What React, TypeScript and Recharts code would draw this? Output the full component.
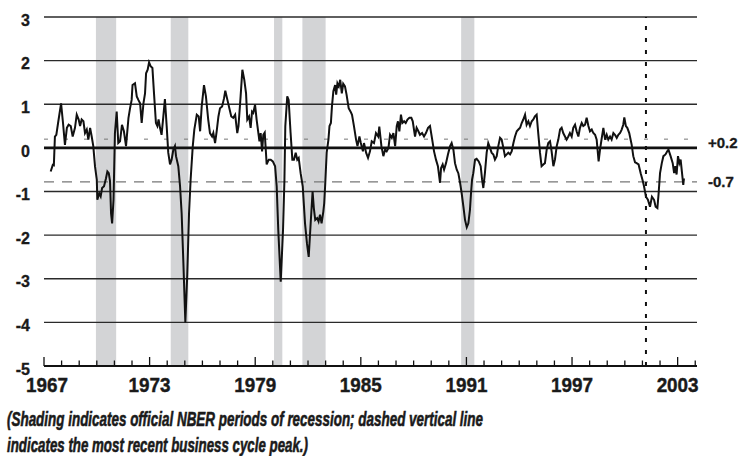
import React from "react";
import {
  LineChart,
  Line,
  XAxis,
  YAxis,
  ReferenceLine,
  ReferenceArea,
} from "recharts";

// monthly-ish readings of the index (year as decimal)
const years = [
  1967.38, 1967.5, 1967.56, 1967.62, 1967.7, 1967.8, 1967.97, 1968.08, 1968.19, 1968.3,
  1968.4, 1968.52, 1968.63, 1968.76, 1968.86, 1968.97, 1969.05, 1969.14, 1969.24, 1969.33,
  1969.43, 1969.52, 1969.62, 1969.71, 1969.8, 1969.9, 1970.0, 1970.03, 1970.14, 1970.22,
  1970.3, 1970.41, 1970.52, 1970.6, 1970.68, 1970.75, 1970.81, 1970.87, 1970.95, 1971.03,
  1971.13, 1971.22, 1971.32, 1971.43, 1971.54, 1971.66, 1971.8, 1971.89, 1971.98, 1972.03,
  1972.17, 1972.27, 1972.36, 1972.46, 1972.55, 1972.65, 1972.74, 1972.8, 1972.89, 1972.97,
  1973.06, 1973.16, 1973.25, 1973.36, 1973.44, 1973.51, 1973.59, 1973.68, 1973.78, 1973.87,
  1973.97, 1974.06, 1974.16, 1974.25, 1974.35, 1974.44, 1974.5, 1974.63, 1974.73, 1974.82,
  1974.92, 1975.03, 1975.14, 1975.24, 1975.33, 1975.45, 1975.54, 1975.68, 1975.79, 1975.87,
  1975.96, 1976.09, 1976.2, 1976.33, 1976.43, 1976.55, 1976.62, 1976.72, 1976.81, 1976.91,
  1977.0, 1977.12, 1977.23, 1977.3, 1977.42, 1977.53, 1977.64, 1977.75, 1977.86, 1977.98,
  1978.05, 1978.17, 1978.27, 1978.38, 1978.48, 1978.55, 1978.65, 1978.74, 1978.82, 1978.89,
  1978.99, 1979.08, 1979.18, 1979.24, 1979.31, 1979.39, 1979.46, 1979.54, 1979.6, 1979.65,
  1979.77, 1979.88, 1980.0, 1980.13, 1980.22, 1980.31, 1980.45, 1980.58, 1980.66, 1980.71,
  1980.82, 1980.9, 1981.01, 1981.11, 1981.2, 1981.3, 1981.39, 1981.47, 1981.58, 1981.7,
  1981.83, 1981.94, 1982.04, 1982.15, 1982.26, 1982.33, 1982.41, 1982.52, 1982.6, 1982.68,
  1982.77, 1982.87, 1982.92, 1982.98, 1983.06, 1983.16, 1983.22, 1983.3, 1983.36, 1983.44,
  1983.54, 1983.6, 1983.67, 1983.75, 1983.83, 1983.92, 1984.0, 1984.1, 1984.19, 1984.31,
  1984.42, 1984.5, 1984.61, 1984.73, 1984.81, 1984.92, 1985.0, 1985.12, 1985.18, 1985.3,
  1985.41, 1985.52, 1985.62, 1985.75, 1985.86, 1985.99, 1986.05, 1986.17, 1986.28, 1986.38,
  1986.47, 1986.57, 1986.66, 1986.76, 1986.85, 1986.95, 1987.04, 1987.11, 1987.19, 1987.28,
  1987.36, 1987.46, 1987.55, 1987.65, 1987.76, 1987.87, 1987.95, 1988.08, 1988.17, 1988.27,
  1988.36, 1988.48, 1988.59, 1988.7, 1988.82, 1988.93, 1989.04, 1989.16, 1989.27, 1989.38,
  1989.5, 1989.56, 1989.65, 1989.73, 1989.84, 1989.95, 1990.07, 1990.16, 1990.26, 1990.35,
  1990.45, 1990.54, 1990.64, 1990.73, 1990.83, 1990.92, 1991.02, 1991.11, 1991.2, 1991.26,
  1991.32, 1991.39, 1991.49, 1991.58, 1991.7, 1991.81, 1991.89, 1991.96, 1992.05, 1992.15,
  1992.24, 1992.34, 1992.43, 1992.53, 1992.62, 1992.72, 1992.81, 1992.91, 1993.0, 1993.1,
  1993.19, 1993.29, 1993.38, 1993.48, 1993.57, 1993.67, 1993.76, 1993.86, 1993.95, 1994.05,
  1994.14, 1994.23, 1994.33, 1994.42, 1994.52, 1994.61, 1994.71, 1994.8, 1994.89, 1994.99,
  1995.08, 1995.18, 1995.27, 1995.37, 1995.46, 1995.56, 1995.65, 1995.75, 1995.84, 1995.94,
  1996.03, 1996.13, 1996.22, 1996.32, 1996.41, 1996.5, 1996.6, 1996.69, 1996.79, 1996.88,
  1996.98, 1997.07, 1997.17, 1997.26, 1997.36, 1997.45, 1997.55, 1997.64, 1997.74, 1997.83,
  1997.93, 1998.02, 1998.12, 1998.21, 1998.31, 1998.4, 1998.51, 1998.59, 1998.69, 1998.78,
  1998.88, 1998.97, 1999.06, 1999.16, 1999.25, 1999.35, 1999.44, 1999.54, 1999.63, 1999.73,
  1999.82, 1999.91, 1999.97, 2000.06, 2000.14, 2000.25, 2000.39, 2000.48, 2000.58, 2000.67,
  2000.78, 2000.9, 2001.02, 2001.09, 2001.2, 2001.31, 2001.43, 2001.54, 2001.66, 2001.75,
  2001.85, 2001.92, 2002.0, 2002.1, 2002.19, 2002.31, 2002.41, 2002.48, 2002.6, 2002.72,
  2002.8, 2002.87, 2002.94, 2003.02, 2003.1, 2003.17, 2003.25, 2003.32, 2003.36,
];

const values = [
  -0.54, -0.39, -0.4, 0.26, 0.3, 0.57, 1.02, 0.57, 0.07, 0.46,
  0.53, 0.5, 0.26, 0.46, 0.76, 0.65, 0.5, 0.65, 0.61, 0.34,
  0.42, 0.19, 0.46, 0.26, 0.04, -0.43, -0.73, -1.19, -1.04, -1.11,
  -0.92, -0.88, -0.7, -0.54, -0.58, -0.76, -1.5, -1.73, -1.19, 0.34,
  0.83, 0.11, 0.15, 0.53, 0.38, 0.04, 0.69, 0.91, 1.1, 1.44,
  1.48, 1.18, 1.1, 1.02, 0.57, 1.02, 1.25, 1.71, 1.79, 1.96,
  1.87, 1.83, 1.25, 0.57, 0.5, 0.65, 0.46, 0.3, 0.72, 1.12,
  0.5, -0.11, -0.38, -0.27, -0.04, 0.04, -0.19, -0.42, -0.88, -1.5,
  -2.65, -4.0, -2.9, -1.5, -0.73, 0.03, 0.42, 0.76, 0.72, 0.38,
  0.95, 1.44, 1.18, 0.65, 0.34, 0.26, 0.34, 0.11, 0.38, 0.72,
  0.91, 0.95, 1.14, 1.31, 1.1, 0.91, 0.72, 0.69, 0.76, 0.34,
  0.5, 1.18, 1.79, 1.56, 1.25, 0.65, 0.72, 0.46, 0.83, 0.8,
  0.99, 0.65, 0.34, 0.15, 0.34, -0.08, 0.3, 0.35, -0.04, -0.38,
  -0.27, -0.27, -0.31, -0.42, -0.88, -1.88, -3.07, -1.88, -0.73, 0.5,
  1.18, 1.1, 0.34, -0.27, -0.27, -0.11, -0.27, -0.23, -0.58, -0.88,
  -1.73, -2.19, -2.5, -1.73, -1.0, -1.38, -1.65, -1.61, -1.69, -1.53,
  -1.73, -1.46, -1.27, -0.81, -0.11, 0.19, 0.5, 0.57, 0.95, 1.3,
  1.44, 1.22, 1.48, 1.41, 1.56, 1.25, 1.47, 1.41, 1.22, 0.91,
  0.83, 0.76, 0.5, 0.19, 0.04, 0.26, 0.11, -0.08, 0.11, -0.11,
  -0.23, -0.08, 0.15, 0.11, 0.34, 0.26, 0.49, 0.04, -0.19, -0.04,
  -0.08, 0.0, 0.3, 0.23, 0.34, 0.04, 0.5, 0.61, 0.38, 0.76,
  0.57, 0.61, 0.57, 0.65, 0.69, 0.69, 0.61, 0.26, 0.46, 0.38,
  0.3, 0.34, 0.26, 0.34, 0.46, 0.5, 0.23, -0.08, -0.27, -0.42,
  -0.8, -0.46, -0.38, -0.5, -0.35, -0.15, 0.04, 0.11, -0.04, -0.35,
  -0.5, -0.58, -0.8, -1.04, -1.35, -1.65, -1.82, -1.73, -1.42, -1.04,
  -0.73, -0.58, -0.27, -0.25, -0.31, -0.42, -0.73, -0.92, -0.58, -0.11,
  0.11, 0.0, -0.11, -0.15, -0.27, -0.19, 0.04, 0.23, 0.19, 0.0,
  -0.19, -0.15, -0.11, -0.15, -0.08, 0.11, 0.26, 0.38, 0.42, 0.46,
  0.57, 0.65, 0.76, 0.53, 0.61, 0.5, 0.61, 0.65, 0.72, 0.76,
  0.34, -0.11, -0.42, -0.38, -0.35, -0.04, 0.11, 0.15, -0.08, -0.42,
  -0.27, 0.04, 0.19, 0.42, 0.46, 0.34, 0.26, 0.19, 0.26, 0.34,
  0.26, 0.46, 0.53, 0.38, 0.26, 0.46, 0.57, 0.5, 0.53, 0.69,
  0.5, 0.38, 0.42, 0.34, 0.3, 0.19, -0.31, -0.04, 0.23, 0.46,
  0.19, 0.3, 0.19, 0.26, 0.19, 0.34, 0.3, 0.23, 0.3, 0.34,
  0.42, 0.53, 0.7, 0.5, 0.46, 0.34, 0.07, -0.19, -0.33, -0.35,
  -0.38, -0.58, -0.76, -0.88, -1.12, -1.19, -1.35, -1.12, -1.19, -1.35,
  -1.38, -1.04, -0.58, -0.35, -0.19, -0.15, -0.08, -0.04, -0.19, -0.35,
  -0.58, -0.42, -0.61, -0.19, -0.35, -0.27, -0.58, -0.85, -0.7,
];

const recessionStart = [1969.95, 1974.2, 1980.07, 1981.68, 1990.7];
const recessionEnd = [1971.1, 1975.2, 1980.54, 1983.0, 1991.45];

const yTicks = [-5, -4, -3, -2, -1, 0, 1, 2, 3];
const gridValues = [-4, -3, -2, -1, 1, 2, 3];
const yearTicks = Array.from({ length: 38 }, (_, i) => 1967 + i);
const labeledYears = [1967, 1973, 1979, 1985, 1991, 1997, 2003];
const lastPeak = 2001.2;

const data = years.map((t, i) => ({ t, v: values[i] }));

const FONT = "'Liberation Sans', Arial, Helvetica, sans-serif";
const INK = "#1a1a1a";

function YearTick({ x, y, payload }: any) {
  const major = labeledYears.includes(payload.value);
  // first label sits a little right of its tick in the original
  const shift = payload.value === 1967 ? 3 : 0;
  return (
    <g>
      <line x1={x} x2={x} y1={y} y2={y - (major ? 9 : 5.5)} stroke="#111" strokeWidth={1.3} />
      {major && (
        <text
          x={x + shift}
          y={y + 26}
          textAnchor="middle"
          fontFamily={FONT}
          fontWeight="bold"
          fontSize={20}
          fill={INK}
          stroke={INK}
          strokeWidth={0.4}
          textLength={42}
          lengthAdjust="spacingAndGlyphs"
        >
          {payload.value}
        </text>
      )}
    </g>
  );
}

function ValueTick({ x, y, payload }: any) {
  return (
    <text
      x={x}
      y={y + 8.7}
      textAnchor="end"
      fontFamily={FONT}
      fontWeight="bold"
      fontSize={16}
      fill={INK}
      stroke={INK}
      strokeWidth={0.3}
    >
      {payload.value}
    </text>
  );
}

function SideLabel({ viewBox, text, dy }: any) {
  const vb = viewBox || {};
  const x = (vb.x ?? 44) + (vb.width ?? 653) + 11;
  const y = (vb.y ?? 0) + dy;
  return (
    <text
      x={x}
      y={y}
      fontFamily={FONT}
      fontWeight="bold"
      fontSize={15}
      fill={INK}
      stroke={INK}
      strokeWidth={0.3}
    >
      {text}
    </text>
  );
}

export default function App() {
  return (
    <div style={{ position: "absolute", left: 0, top: 0, width: 748, height: 456, background: "#fff" }}>
      <LineChart
        width={748}
        height={400}
        data={data}
        margin={{ top: 17, right: 51, bottom: 4, left: 0 }}
      >
        <XAxis
          dataKey="t"
          type="number"
          domain={[1967, 2004.1]}
          ticks={yearTicks}
          interval={0}
          allowDataOverflow
          height={30}
          tickSize={0}
          tickMargin={0}
          tickLine={false}
          axisLine={{ stroke: "#111", strokeWidth: 2 }}
          tick={(p: any) => <YearTick {...p} />}
        />
        <YAxis
          type="number"
          domain={[-5, 3]}
          ticks={yTicks}
          interval={0}
          width={44}
          tickSize={0}
          tickMargin={14}
          axisLine={false}
          tickLine={false}
          tick={(p: any) => <ValueTick {...p} />}
        />
        {recessionStart.map((s, i) => (
          <ReferenceArea
            key={"r" + i}
            x1={s}
            x2={recessionEnd[i]}
            y1={-5}
            y2={3}
            fill="#d3d4d6"
            fillOpacity={1}
            stroke="none"
          />
        ))}
        {gridValues.map((g) => (
          <ReferenceLine key={"g" + g} y={g} stroke="#2a2a2a" strokeWidth={1.4} />
        ))}
        <ReferenceLine y={0} stroke="#111" strokeWidth={2.6} />
        <ReferenceLine
          y={0.2}
          stroke="#777"
          strokeWidth={1}
          strokeDasharray="4 16"
          label={<SideLabel text="+0.2" dy={9} />}
        />
        <ReferenceLine
          y={-0.78}
          stroke="#777"
          strokeWidth={1.3}
          strokeDasharray="10 8"
          label={<SideLabel text="-0.7" dy={5.5} />}
        />
        <ReferenceLine
          x={lastPeak}
          stroke="#111"
          strokeWidth={2}
          strokeDasharray="4 8"
        />
        <Line
          type="linear"
          dataKey="v"
          stroke="#111"
          strokeWidth={2}
          dot={false}
          isAnimationActive={false}
        />
      </LineChart>
      <svg
        width={748}
        height={56}
        style={{ position: "absolute", left: 0, top: 400 }}
      >
        <text
          x={7}
          y={26}
          fontFamily={FONT}
          fontWeight="bold"
          fontStyle="italic"
          fontSize={20}
          fill={INK}
          stroke={INK}
          strokeWidth={0.6}
          textLength={476}
          lengthAdjust="spacingAndGlyphs"
        >
          (Shading indicates official NBER periods of recession; dashed vertical line
        </text>
        <text
          x={7}
          y={52}
          fontFamily={FONT}
          fontWeight="bold"
          fontStyle="italic"
          fontSize={20}
          fill={INK}
          stroke={INK}
          strokeWidth={0.6}
          textLength={301}
          lengthAdjust="spacingAndGlyphs"
        >
          indicates the most recent business cycle peak.)
        </text>
      </svg>
    </div>
  );
}
